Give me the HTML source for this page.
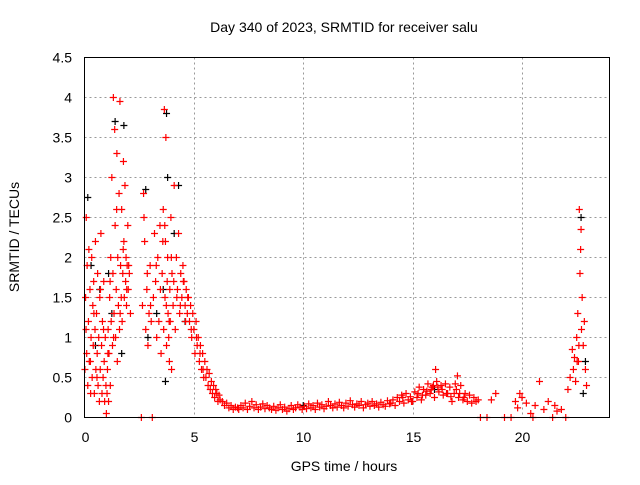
<!DOCTYPE html>
<html><head><meta charset="utf-8"><style>
body{margin:0;background:#fff;width:640px;height:480px;overflow:hidden}
svg{font-family:"Liberation Sans",sans-serif}
</style></head><body>
<svg id="chart" width="640" height="480">
<text x="344" y="32" font-size="14" text-anchor="middle">Day 340 of 2023, SRMTID for receiver salu</text>
<text x="344" y="471" font-size="14" text-anchor="middle">GPS time / hours</text>
<text transform="translate(19,237) rotate(-90)" font-size="14" text-anchor="middle">SRMTID / TECUs</text>
<g id="grid"></g><g id="ticks"></g><g id="black"></g><g id="red"></g>
<rect x="84.5" y="57.5" width="525" height="360" fill="none" stroke="#000"/>
</svg>
<script>
const xTicks=[0,5,10,15,20];
const yTicks=[0,0.5,1,1.5,2,2.5,3,3.5,4,4.5];
const yTickLabels=["0","0.5","1","1.5","2","2.5","3","3.5","4","4.5"];
const redT=[0.02,0.05,0.08,0.1,0.12,0.15,0.18,0.2,0.22,0.25,0.28,0.3,0.33,0.35,0.38,0.4,0.42,0.45,0.48,0.5,0.52,0.55,0.58,0.6,0.62,0.65,0.68,0.7,0.72,0.75,0.78,0.8,0.82,0.85,0.88,0.9,0.92,0.95,0.98,
1.0,1.03,1.05,1.08,1.1,1.12,1.15,1.18,1.2,1.22,1.25,1.28,1.3,1.32,1.35,1.38,1.4,1.42,1.45,1.48,1.5,1.52,1.55,1.58,1.6,1.62,1.65,1.68,1.7,1.72,1.75,1.78,1.8,1.82,1.85,1.88,1.9,1.92,1.95,1.98,2.0,2.05,2.1,
2.6,2.65,2.7,2.75,2.8,2.85,2.9,2.95,3.0,3.05,3.1,3.15,3.2,3.25,3.3,3.35,
3.4,3.45,3.5,3.55,3.6,3.62,3.65,3.68,3.7,3.72,3.75,3.78,3.8,3.82,3.85,3.88,3.9,3.92,3.95,3.98,4.0,4.05,4.1,4.15,4.2,4.25,4.3,4.35,4.4,4.45,4.5,4.55,4.6,4.65,4.7,
4.75,4.8,4.85,4.9,4.95,5.0,5.05,5.1,5.15,5.2,5.25,5.3,5.35,5.4,5.45,5.5,
5.55,5.6,5.65,5.7,5.75,5.8,5.85,5.9,5.95,6.0,6.05,6.1,6.15,6.2,6.3,6.4,6.5,6.6,6.7,6.8,6.9,7.0,
7.05,7.15,7.25,7.35,7.45,7.55,7.65,7.75,7.85,7.95,8.05,8.15,8.25,8.35,8.45,8.55,8.65,8.75,8.85,8.95,9.05,9.15,9.25,9.35,9.45,9.55,9.65,9.75,9.85,9.95,10.05,10.15,10.25,10.35,10.45,10.55,10.65,10.75,10.85,10.95,11.05,11.15,11.25,11.35,11.45,11.55,11.65,11.75,11.85,11.95,12.05,12.15,12.25,12.35,12.45,12.55,12.65,12.75,12.85,12.95,13.05,13.15,13.25,13.35,13.45,13.55,13.65,13.75,13.85,13.95,
14.0,14.1,14.2,14.3,14.4,14.5,14.6,14.7,14.8,14.9,15.0,15.1,15.2,15.3,15.4,15.5,15.6,15.7,15.8,15.9,16.0,16.05,16.1,16.2,16.3,16.4,16.5,16.6,16.7,16.8,16.9,17.0,17.05,17.1,17.2,17.3,17.4,17.5,17.6,17.7,17.8,17.9,18.0,
18.1,18.4,18.6,18.8,19.2,19.5,19.7,19.8,19.9,20.0,20.2,20.4,20.5,20.6,20.8,21.0,21.2,21.4,21.5,21.6,21.8,22.0,
22.1,22.2,22.3,22.35,22.4,22.45,22.5,22.52,22.55,22.6,22.62,22.65,22.7,22.72,22.75,22.8,22.85,22.9,22.95,
0.07,0.27,0.43,0.57,0.73,0.87,1.07,1.17,1.33,1.47,1.63,1.77,1.93,2.02,2.72,2.87,3.02,3.28,3.47,3.58,3.67,3.74,3.87,3.97,4.08,4.22,4.38,4.52,4.62,4.72,4.88,5.12,5.28,5.42,
14.55,14.95,15.25,15.45,15.65,15.85,15.95,16.15,16.35,16.55,16.75,16.95,17.15,17.35,22.58,22.68];
const redV=[0.6,1.5,2.5,0.8,1.9,0.4,1.2,2.1,0.7,1.6,0.3,1.0,2.0,0.5,1.4,0.9,1.7,0.3,1.1,2.2,0.6,1.3,0.8,1.8,0.4,1.0,0.2,1.5,0.6,2.3,0.9,0.3,1.2,0.5,1.7,0.7,0.2,1.0,0.4,
0.05,0.3,0.6,1.1,0.2,0.8,1.5,0.4,2.0,1.2,3.0,0.9,1.8,4.0,1.3,3.6,2.4,1.0,1.6,3.3,0.7,2.0,1.4,2.8,1.1,3.95,1.9,1.5,2.6,1.2,1.8,3.2,2.2,1.5,2.9,1.7,2.0,1.4,1.9,2.4,1.6,1.8,1.3,
0,1.4,2.8,2.2,1.1,1.6,0.9,1.3,1.9,1.2,0,1.5,2.3,1.7,1.0,2.0,
1.2,2.4,0.8,1.8,2.6,1.1,3.85,1.5,2.2,3.5,0.9,1.7,2.0,1.3,1.0,0.7,1.6,1.2,2.5,0.6,1.8,1.4,2.9,1.1,2.0,1.6,2.3,1.3,1.8,1.5,1.9,1.7,1.4,1.6,1.3,
1.5,1.2,1.4,1.0,1.3,1.1,0.8,1.2,0.9,1.0,0.7,0.9,0.6,0.8,0.5,0.7,
0.5,0.6,0.4,0.55,0.35,0.45,0.3,0.4,0.25,0.35,0.3,0.2,0.28,0.22,0.2,0.15,0.18,0.12,0.15,0.1,0.13,0.12,
0.1,0.15,0.12,0.18,0.1,0.14,0.2,0.12,0.16,0.1,0.13,0.17,0.11,0.15,0.12,0.1,0.14,0.09,0.12,0.16,0.1,0.13,0.08,0.11,0.15,0.1,0.12,0.16,0.13,0.1,0.14,0.11,0.17,0.12,0.15,0.1,0.18,0.13,0.16,0.11,0.14,0.2,0.15,0.12,0.17,0.13,0.19,0.15,0.12,0.18,0.14,0.21,0.16,0.13,0.17,0.15,0.2,0.12,0.16,0.18,0.14,0.2,0.15,0.17,0.13,0.19,0.16,0.14,0.21,0.17,
0.18,0.22,0.15,0.25,0.2,0.28,0.18,0.3,0.22,0.26,0.2,0.32,0.25,0.38,0.22,0.35,0.28,0.42,0.3,0.38,0.25,0.6,0.45,0.32,0.4,0.28,0.42,0.3,0.38,0.2,0.3,0.35,0.52,0.25,0.4,0.22,0.3,0.2,0.28,0.18,0.25,0.2,0.22,
0,0,0.22,0.3,0,0,0.2,0.12,0.3,0.25,0.18,0.05,0,0.15,0.45,0.1,0.2,0,0.15,0.08,0.1,0,
0.35,0.5,0.85,0.6,0.75,0.45,1.0,0.7,1.3,0.9,2.6,1.8,2.35,1.1,1.5,0.9,1.2,0.6,0.4,
1.1,0.7,1.3,0.5,1.6,1.1,0.8,1.7,1.0,2.6,1.3,2.1,1.6,1.9,2.5,1.8,1.4,1.9,1.6,2.2,2.4,1.4,1.2,2.0,1.7,1.5,1.4,1.7,1.2,1.5,1.1,1.0,0.8,0.6,
0.25,0.2,0.3,0.28,0.33,0.35,0.4,0.38,0.35,0.3,0.26,0.42,0.3,0.25,0.7,2.1];
const blackT=[0.15,0.3,1.4,1.8,1.7,2.8,3.6,3.7,3.75,3.8,4.3,1.1,22.7,22.8,22.9,4.6,2.9,0.5,3.3,16.0,10.0,0.7,1.25,4.1];
const blackV=[2.75,1.9,3.7,3.65,0.8,2.85,1.6,0.45,3.8,3.0,2.9,1.8,2.5,0.3,0.7,1.2,1.0,0.9,1.3,0.35,0.15,1.6,1.3,2.3];
const X=t=>84.5+t*(525/24);
const Y=v=>417.5-v*80;
const NS="http://www.w3.org/2000/svg";
function mk(tag,attrs,parent){const e=document.createElementNS(NS,tag);for(const k in attrs)e.setAttribute(k,attrs[k]);parent.appendChild(e);return e;}
const grid=document.getElementById('grid'),ticks=document.getElementById('ticks');
xTicks.forEach(t=>{
  const x=Math.round(X(t))+0.5;
  if(t>0){const g=mk('line',{x1:x,x2:x,y1:57.5,y2:417.5,stroke:'#999','stroke-dasharray':'2,3'},grid);
  
  }
  const l=mk('text',{x:x,y:442,'font-size':14,'text-anchor':'middle'},ticks);l.textContent=t;
  
  
});
yTicks.forEach((v,i)=>{
  const y=Math.round(Y(v)-0.5)+0.5;
  if(v>0&&v<4.5){const g=mk('line',{x1:84.5,x2:609.5,y1:y,y2:y,stroke:'#999','stroke-dasharray':'2,3'},grid);
  
  }
  const l=mk('text',{x:72,y:y+5,'font-size':14,'text-anchor':'end'},ticks);l.textContent=yTickLabels[i];
  
  
});
function plus(g,t,v,c){const x=X(t),y=Y(v);
  const p=mk('path',{d:`M${x-3.5},${y}H${x+3.5}M${x},${y-3.5}V${y+3.5}`,stroke:c,'stroke-width':1.2,fill:'none'},g);
  return p;}
const bg=document.getElementById('black');
blackT.forEach((t,i)=>{const p=plus(bg,t,blackV[i],'#000');
  
  });
const rg=document.getElementById('red');
redT.forEach((t,i)=>{const p=plus(rg,t,redV[i],'#f00');
  
  });
</script>
</body></html>
